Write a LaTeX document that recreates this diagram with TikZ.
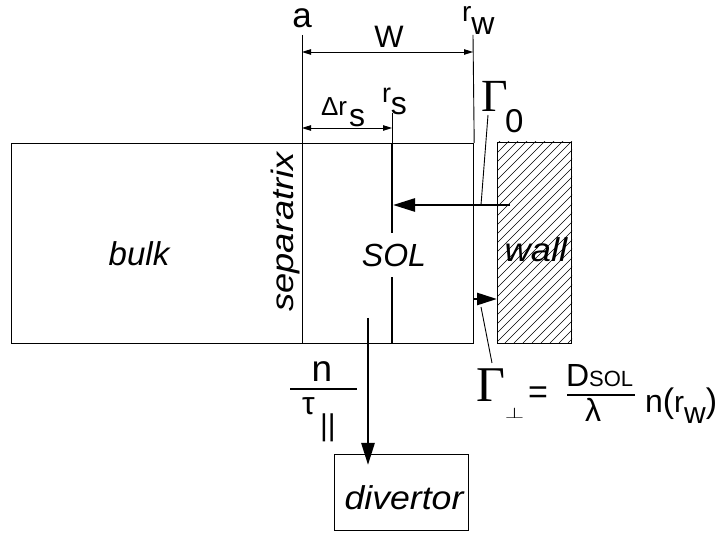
\documentclass[tikz,border=0pt]{standalone}
\usepackage{fontspec}
\setmainfont{Liberation Sans}
\newfontfamily\gfont{Liberation Serif}
\usetikzlibrary{arrows.meta}
\newcommand\fs[1]{\fontsize{#1}{#1}\selectfont}
\begin{document}
\begin{tikzpicture}[x=1pt,y=-1pt,
  thinln/.style={line width=0.9pt},
  thickln/.style={line width=2.6pt},
  bigarrow/.style={line width=2.6pt,-{Triangle[length=22pt,width=13pt]}},
  dimarrow/.style={line width=0.9pt,{Triangle[length=9pt,width=5.5pt]}-{Triangle[length=9pt,width=5.5pt]}},
  lab/.style={inner sep=0pt,outer sep=0pt},
  ital/.style={inner sep=0pt,font=\fs{33}\itshape}]
\useasboundingbox (0,0) rectangle (718,534);
% boxes
\node[draw,line width=1.2pt,minimum width=462pt,minimum height=200pt,anchor=north west,inner sep=0pt] (plasma) at (11,143) {};
\node[draw,line width=1pt,minimum width=74pt,minimum height=201pt,anchor=north west,inner sep=0pt] (wallbox) at (497,142) {};
\begin{scope}
  \clip (wallbox.south west) rectangle (wallbox.north east);
  \foreach \i in {0,...,34} \draw[line width=0.5pt] (280+\i*9,343) -- ++(220,-220);
\end{scope}
\node[draw,line width=0.9pt,minimum width=134pt,minimum height=76pt,anchor=north west,inner sep=0pt] (divbox) at (334,454) {};
% region texts
\node[ital] (bulk) at (139,254) {bulk};
\node[ital,rotate=90,xscale=1.17,font=\fs{31}\itshape] (sepx) at (285,232) {separatrix};
\node[ital,anchor=base,xscale=1.1] (wall) at (536,262) {wall};
\node[ital,anchor=base,xscale=1.08] (divtxt) at (404,510) {divertor};
% coordinates
\coordinate (aTop) at (302,35);
\coordinate (sepBot) at (302,343);
\coordinate (rwTop) at (473,35);
\coordinate (rsTop) at (392,113);
\coordinate (rsIn) at (392,143);
\coordinate (rsBot) at (392,343);
\coordinate (wA) at (302,52);
\coordinate (wB) at (473,52);
\coordinate (dA) at (302,128);
\coordinate (dB) at (392,128);
% lines
\draw[thinln] (aTop) -- (sepBot);
\draw[thinln] (rwTop) -- (plasma.north east);
\draw[thinln] (rsTop) -- (rsIn);
\draw[thickln] (rsIn) -- (rsBot);
\node[fill=white,inner xsep=1pt,inner ysep=11pt,font=\fs{32}\itshape] (sol) at (394,255) {SOL};
\draw[dimarrow] (wA) -- (wB);
\draw[dimarrow] (dA) -- (dB);
% arrows
\coordinate (inStart) at (510,205);
\coordinate (inEnd) at (393,205);
\draw[bigarrow] (inStart) -- (inEnd);
\coordinate (outStart) at (473,299);
\coordinate (outEnd) at (497,299);
\draw[line width=2.6pt,-{Triangle[length=20pt,width=12pt]}] (outStart) -- (outEnd);
\coordinate (downStart) at (368,318);
\coordinate (downEnd) at (368,465);
\draw[bigarrow] (downStart) -- (downEnd);
% top labels
\node[lab,anchor=base,font=\fs{35}] (la) at (302,27.5) {a};
\node[lab,anchor=base,font=\fs{31}] (lW) at (389,48) {W};
\node[lab,anchor=base west] (lrw) at (462,22) {\fs{28}r\raisebox{-13pt}{\fs{32}w}};
\node[lab,anchor=base west] (lrs) at (382,103) {\fs{27}r\raisebox{-12pt}{\fs{32}s}};
\node[lab,anchor=base west] (ldrs) at (321,116) {\fs{26}Δr\kern2pt\raisebox{-11pt}{\fs{32}s}};
% Gamma 0
\node[lab,anchor=base west,font=\gfont\fs{46}] (g0) at (481,112) {Γ};
\node[lab,anchor=base west,font=\fs{33}] (g0sub) at (505,133) {0};
\coordinate (g0a) at (488,115);
\coordinate (g0b) at (481,205);
\draw[thinln] (g0a) -- (g0b);
% Gamma perp formula
\node[lab,anchor=base west] (gp) at (476,402) {{\gfont\fs{50}Γ}\raisebox{-17pt}{\scalebox{1}[0.62]{\fs{34}$\perp$}}};
\coordinate (gpa) at (481,307);
\coordinate (gpb) at (492,363);
\draw[thinln] (gpa) -- (gpb);
\node[lab,font=\fs{34}] (eq) at (538,395) {=};
\node[lab,anchor=base west] (dsol) at (566,387) {\fs{32}D\fs{22}SOL};
\coordinate (fbA) at (567,395);
\coordinate (fbB) at (635,395);
\draw[line width=1.3pt] (fbA) -- (fbB);
\node[lab,anchor=base,font=\fs{32}] (lam) at (593,422) {λ};
\node[lab,anchor=base west] (nrw) at (645,413) {\fs{32}n\fs{34}(\fs{30}r\raisebox{-11pt}{w}\fs{34})};
% n / tau
\node[lab,anchor=base,font=\fs{37}] (nn) at (322,382) {n};
\coordinate (tbA) at (290,389);
\coordinate (tbB) at (357,389);
\draw[line width=1.4pt] (tbA) -- (tbB);
\node[lab,anchor=base west,font=\fs{32}] (tau) at (302,415) {τ};
\node[lab,anchor=base west,font=\fs{30}] (par) at (320,436) {||};
\end{tikzpicture}
\end{document}
